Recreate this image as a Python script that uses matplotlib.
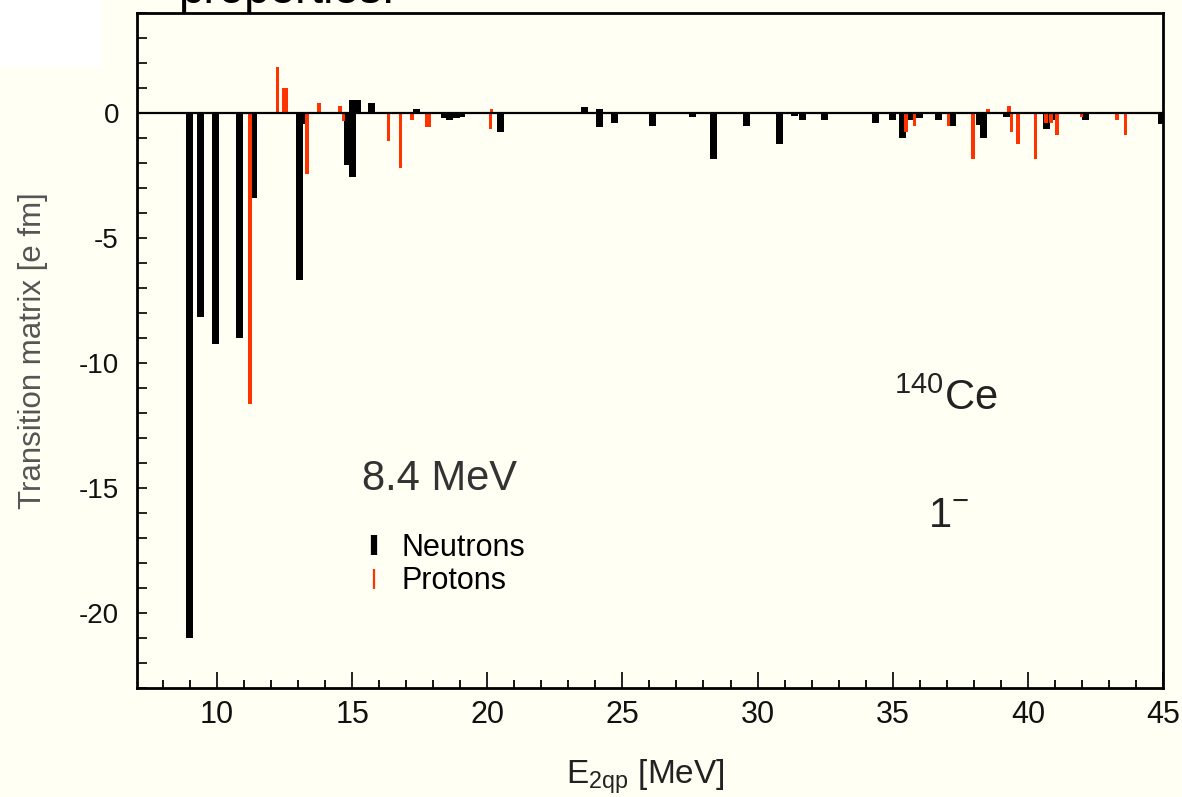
import matplotlib
matplotlib.use('Agg')
import matplotlib.pyplot as plt
from matplotlib import font_manager
from matplotlib.lines import Line2D
from matplotlib.patches import Rectangle
from matplotlib.ticker import MultipleLocator

plt.rcParams['font.family'] = ['Liberation Sans', 'DejaVu Sans']
plt.rcParams['mathtext.fontset'] = 'custom'
plt.rcParams['mathtext.rm'] = 'Liberation Sans'
plt.rcParams['mathtext.it'] = 'Liberation Sans'

# narrow face for the energy axis numbers, if it is installed
_names = {f.name for f in font_manager.fontManager.ttflist}
NARROW = 'Liberation Sans Narrow' if 'Liberation Sans Narrow' in _names else 'Liberation Sans'

# two-quasiparticle energies [MeV] and transition matrix elements [e fm]
neutron_e = [8.97, 9.40, 9.95, 10.85, 11.36, 13.07, 13.24, 14.82, 15.02, 15.02,
             15.20, 15.72, 17.38, 18.40, 18.60, 18.85, 19.05, 20.50, 23.60,
             24.15, 24.15, 24.70, 26.10, 27.60, 28.38, 29.58, 30.82, 31.35,
             31.68, 32.46, 34.35, 35.00, 35.36, 35.70, 36.00, 36.68, 37.22,
             38.22, 38.36, 39.22, 40.68, 40.92, 42.13, 44.95]
neutron_val = [-21.0, -8.17, -9.24, -9.0, -3.39, -6.7, -0.45, -2.08, -2.58, 0.5,
               0.5, 0.41, 0.17, -0.19, -0.29, -0.2, -0.18, -0.78, 0.25,
               0.17, -0.55, -0.41, -0.52, -0.17, -1.85, -0.53, -1.25, -0.14,
               -0.28, -0.28, -0.42, -0.28, -1.0, -0.28, -0.19, -0.28, -0.52,
               -0.5, -1.0, -0.18, -0.65, -0.28, -0.29, -0.45]

proton_e = [11.23, 12.24, 12.46, 12.58, 13.33, 13.77, 14.55, 14.68, 16.34,
            16.79, 17.22, 17.77, 17.87, 20.12, 20.16, 35.50, 35.80, 37.07,
            37.97, 38.52, 39.30, 39.39, 39.63, 40.28, 40.68, 40.85, 41.08,
            41.99, 43.30, 43.62]
proton_val = [-11.63, 1.83, 1.01, 1.01, -2.44, 0.41, 0.28, -0.32, -1.12,
              -2.2, -0.3, -0.55, -0.55, -0.65, 0.17, -0.78, -0.52, -0.52,
              -1.85, 0.15, 0.28, -0.78, -1.25, -1.85, -0.41, -0.41, -0.89,
              -0.18, -0.28, -0.89]

x_ticks = [10, 15, 20, 25, 30, 35, 40, 45]
y_ticks = [0, -5, -10, -15, -20]

BG = '#fffff4'
RED = '#ff3300'


def draw_strength():
    fig = plt.figure(figsize=(11.82, 7.97), dpi=100, facecolor=BG)
    ax = fig.add_axes([0.1159, 0.1368, 0.8680, 0.8469], facecolor=BG)

    ax.bar(neutron_e, neutron_val, width=0.26, color='black', linewidth=0, zorder=2)
    ax.bar(proton_e, proton_val, width=0.13, color=RED, linewidth=0, zorder=3)
    ax.axhline(0, color='black', lw=1.6, zorder=4)

    ax.set_xlim(7.04, 45)
    ax.set_ylim(-23, 4)
    ax.set_xticks(x_ticks)
    ax.set_xticklabels([str(v) for v in x_ticks], family=[NARROW, 'DejaVu Sans'])
    ax.set_yticks(y_ticks)
    ax.set_yticklabels([str(v) for v in y_ticks])
    ax.xaxis.set_minor_locator(MultipleLocator(1))
    ax.yaxis.set_minor_locator(MultipleLocator(1))
    ax.tick_params(axis='x', which='major', direction='in', length=11.5, width=1.3,
                   labelsize=22, pad=9, colors='#111', top=False)
    ax.tick_params(axis='x', which='minor', direction='in', length=5.8, width=1.3,
                   top=False)
    ax.tick_params(axis='y', which='both', direction='in', length=7, width=1.3,
                   labelsize=20, pad=13, colors='#111', right=False)
    for sp in ax.spines.values():
        sp.set_linewidth(2)

    ax.set_ylabel('Transition matrix [e fm]', fontsize=22.5, color='#555')
    ax.yaxis.set_label_coords(-0.0868, 0.5)
    ax.text(0.495, -0.141, r'E$_{\mathrm{2qp}}$ [MeV]', transform=ax.transAxes,
            ha='center', va='baseline', fontsize=24, color='#222')

    ax.text(0.219, 0.293, '8.4 MeV', transform=ax.transAxes, fontsize=30,
            color='#333', va='baseline')
    ax.text(0.738, 0.412, r'$^{140}$Ce', transform=ax.transAxes, fontsize=30,
            color='#222', va='baseline')
    ax.text(0.771, 0.2385, r'1$^{-}$', transform=ax.transAxes, fontsize=30,
            color='#222', va='baseline')

    handles = [Line2D([], [], ls='none', marker='|', color='black', markersize=15, mew=4.5),
               Line2D([], [], ls='none', marker='|', color=RED, markersize=15, mew=1.6)]
    ax.legend(handles, ['Neutrons', 'Protons'], loc='upper left',
              bbox_to_anchor=(0.219, 0.23), frameon=False, fontsize=22,
              handlelength=0.8, handletextpad=0.5, labelspacing=0.12,
              borderpad=0, borderaxespad=0)

    # slide heading that runs off the top edge, and the white corner patch
    fig.text(0.151, 0.9962, 'properties.', fontsize=33, color='black',
             va='baseline', ha='left')
    fig.patches.append(Rectangle((0, 1 - 67 / 797), 102 / 1182, 67 / 797,
                                 transform=fig.transFigure, facecolor='white',
                                 edgecolor='none', zorder=5))

    fig.savefig('out.png', dpi=100, facecolor=BG)


if __name__ == '__main__':
    draw_strength()
